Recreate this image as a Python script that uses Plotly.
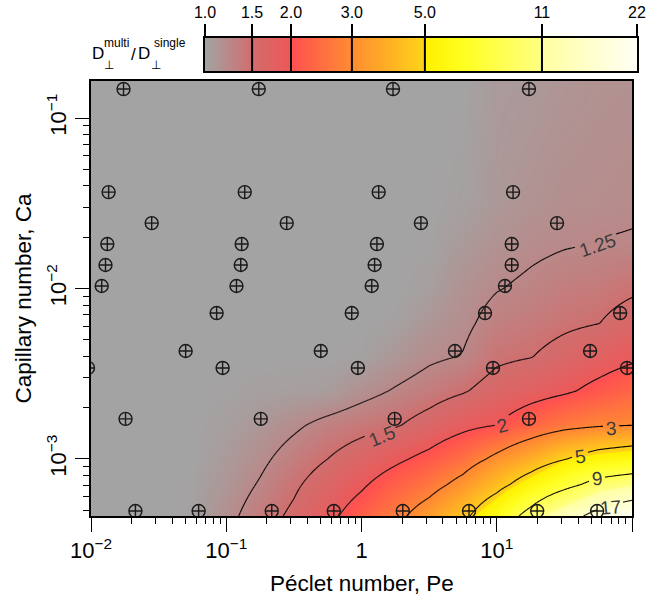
import numpy as np
import plotly.graph_objects as go

# ---------------- data ----------------
# grid nodes of the interpolated map (Peclet number, capillary number)
pe_nodes = [0.01, 0.0316, 0.0562, 0.1, 0.178, 0.316, 0.562, 1.0, 1.78, 3.16,
            5.62, 10.0, 17.8, 31.6, 56.2, 100.0]
ca_nodes = [4.63e-4, 7.08e-4, 1.0e-3, 1.58e-3, 2.51e-3, 3.98e-3, 6.31e-3,
            1.0e-2, 1.78e-2, 3.16e-2, 0.165]
# D_perp(multi)/D_perp(single), one row per ca node (bottom -> top)
ratio_grid = [
    [1.0, 1.0, 1.02, 1.18, 1.37, 1.56, 1.87, 2.26, 2.75, 3.49, 4.55, 6.69, 10.2, 14.5, 18.9, 23.0],
    [1.0, 1.0, 1.01, 1.12, 1.27, 1.45, 1.66, 1.93, 2.28, 2.65, 3.30, 4.39, 5.96, 7.93, 10.1, 11.0],
    [1.0, 1.0, 1.0, 1.08, 1.20, 1.35, 1.50, 1.67, 1.90, 2.15, 2.54, 3.21, 3.96, 4.93, 5.8, 6.27],
    [1.0, 1.0, 1.0, 1.04, 1.11, 1.21, 1.32, 1.40, 1.47, 1.63, 1.85, 2.0, 2.36, 2.68, 2.88, 2.98],
    [1.0, 1.0, 1.0, 1.01, 1.03, 1.04, 1.06, 1.17, 1.27, 1.36, 1.47, 1.64, 1.78, 1.92, 2.14, 2.36],
    [1.0, 1.0, 1.0, 1.0, 1.0, 1.0, 1.0, 1.02, 1.11, 1.21, 1.26, 1.44, 1.49, 1.62, 1.76, 1.91],
    [1.0, 1.0, 1.0, 1.0, 1.0, 1.0, 1.0, 1.0, 1.02, 1.12, 1.20, 1.33, 1.37, 1.44, 1.49, 1.64],
    [1.0, 1.0, 1.0, 1.0, 1.0, 1.0, 1.0, 1.0, 1.0, 1.04, 1.16, 1.24, 1.29, 1.35, 1.38, 1.45],
    [1.0, 1.0, 1.0, 1.0, 1.0, 1.0, 1.0, 1.0, 1.0, 1.01, 1.09, 1.16, 1.21, 1.24, 1.26, 1.27],
    [1.0, 1.0, 1.0, 1.0, 1.0, 1.0, 1.0, 1.0, 1.0, 1.0, 1.03, 1.10, 1.15, 1.19, 1.20, 1.22],
    [1.0, 1.0, 1.0, 1.0, 1.0, 1.0, 1.0, 1.0, 1.0, 1.0, 1.0, 1.08, 1.09, 1.13, 1.16, 1.17],
]

# simulation points
pe_pts = [0.0174, 0.174, 1.71, 17.3,
          0.0135, 0.137, 1.34, 13.2,
          0.0281, 0.280, 2.75, 27.9,
          0.0132, 0.130, 1.30, 12.9,
          0.0128, 0.128, 1.25, 12.9,
          0.0120, 0.119, 1.19, 11.5,
          0.0849, 0.847, 8.19, 81.7,
          0.0501, 0.50, 4.91, 49.0,
          0.0095, 0.094, 0.94, 9.38, 92.0,
          0.0180, 0.180, 1.76, 17.3,
          0.0213, 0.0625, 0.217, 0.624, 2.02, 6.24, 19.9, 55.2]
ca_pts = [0.148] * 4 + [0.0368] * 4 + [0.0242] * 4 + [0.01824] * 4 + [0.01374] * 4 + \
         [0.01035] * 4 + [0.00718] * 4 + [0.0043] * 4 + [0.00342] * 5 + [0.00172] * 4 + \
         [4.95e-4] * 8

contour_levels = [1.25, 1.5, 2, 3, 5, 9, 17]
contour_labels = ["1.25", "1.5", "2", "3", "5", "9", "17"]
# where the labels sit along each contour (Pe, Ca) and their tilt (deg)
label_pe = [55.2, 1.41, 11.1, 70.0, 41.3, 55.2, 68.9]
label_ca = [0.0180, 0.00135, 0.00158, 0.00152, 0.00104, 7.64e-4, 5.22e-4]
label_angle = [-19, -22, -15, -3, -8, -5, -5]

cb_values = [1.0, 1.5, 2.0, 3.0, 5.0, 11.0, 22.0]
cb_labels = ["1.0", "1.5", "2.0", "3.0", "5.0", "11", "22"]
cb_pos = [0.0, 0.109, 0.199, 0.340, 0.509, 0.780, 1.0]

x_ticks = [0.01, 0.1, 1, 10, 100]
x_ticktext = ["10<sup>\u22122</sup>", "10<sup>\u22121</sup>", "1", "10<sup>1</sup>", "10<sup>2</sup>"]
y_ticks = [1e-3, 1e-2, 1e-1]
y_ticktext = ["10<sup>\u22123</sup>", "10<sup>\u22122</sup>", "10<sup>\u22121</sup>"]

pe_range = [0.01, 100]
ca_range = [4.63e-4, 0.165]

# ---------------- figure ----------------
W, H = 648, 602
L, R, T, B = 91, 8, 38, 86
PW, PH = W - L - R, H - T - B
FONT = "Liberation Sans, Arial, Helvetica, sans-serif"
LABEL_SIZE = 19


def fx(px):
    return (px - L) / PW


def fy(py):
    return (H - B - py) / PH


XD1, YD1 = fx(632), fy(81)
xr = np.log10(pe_range)
yr = np.log10(ca_range)


def to_px(x, y):
    """data (log10) -> page pixels of the main axes"""
    px = L + (x - xr[0]) / (xr[1] - xr[0]) * XD1 * PW
    py = (H - B) - (y - yr[0]) / (yr[1] - yr[0]) * YD1 * PH
    return px, py


colorscale = [
    [0.0, "#a3a3a3"], [0.109, "#d16d6d"], [0.197, "#ef5757"], [0.200, "#ff5050"],
    [0.340, "#ff8c32"], [0.506, "#ffd418"], [0.512, "#fff000"], [0.60, "#ffff22"],
    [0.778, "#ffff84"], [0.783, "#ffffa2"], [1.0, "#fffff6"],
]

lx = np.log10(pe_nodes)
ly = np.log10(ca_nodes)
zr = np.array(ratio_grid, dtype=float)
tz = np.interp(zr, cb_values, cb_pos)

# bilinear resampling of the map (as the smoothed heatmap shows it) for contouring
gx = np.linspace(xr[0], xr[1], 541)
gy = np.linspace(yr[0], yr[1], 436)
zrow = np.array([np.interp(gx, lx, row) for row in zr])          # (ny, nxf)
zfine = np.array([np.interp(gy, ly, zrow[:, i]) for i in range(len(gx))]).T  # (nyf, nxf)


def iso_segments(level):
    Z = zfine - level
    Z = np.where(Z == 0, 1e-9, Z)
    # crossings on horizontal edges (between i and i+1 at row j)
    zh0, zh1 = Z[:, :-1], Z[:, 1:]
    ch = (zh0 * zh1) < 0
    with np.errstate(divide="ignore", invalid="ignore"):
        fh = zh0 / (zh0 - zh1)
    hx = gx[:-1][None, :] + fh * (gx[1] - gx[0])
    hy = np.broadcast_to(gy[:, None], hx.shape)
    # crossings on vertical edges (between j and j+1 at column i)
    zv0, zv1 = Z[:-1, :], Z[1:, :]
    cv = (zv0 * zv1) < 0
    with np.errstate(divide="ignore", invalid="ignore"):
        fv = zv0 / (zv0 - zv1)
    vy = gy[:-1][:, None] + fv * (gy[1] - gy[0])
    vx = np.broadcast_to(gx[None, :], vy.shape)
    # edges of each cell: bottom, right, top, left
    cx = np.stack([hx[:-1, :], vx[:, 1:], hx[1:, :], vx[:, :-1]], axis=-1)
    cy = np.stack([hy[:-1, :], vy[:, 1:], hy[1:, :], vy[:, :-1]], axis=-1)
    cc = np.stack([ch[:-1, :], cv[:, 1:], ch[1:, :], cv[:, :-1]], axis=-1)
    n = cc.sum(axis=-1)
    segs = []
    jj, ii = np.nonzero(n == 2)
    for j, i in zip(jj, ii):
        k = np.nonzero(cc[j, i])[0]
        segs.append(((cx[j, i, k[0]], cy[j, i, k[0]]), (cx[j, i, k[1]], cy[j, i, k[1]])))
    jj, ii = np.nonzero(n == 4)
    for j, i in zip(jj, ii):
        segs.append(((cx[j, i, 0], cy[j, i, 0]), (cx[j, i, 3], cy[j, i, 3])))
        segs.append(((cx[j, i, 1], cy[j, i, 1]), (cx[j, i, 2], cy[j, i, 2])))
    return segs


def text_width(txt, size):
    w = {".": 0.278}
    return sum(w.get(ch, 0.556) for ch in txt) * size


fig = go.Figure()
fig.add_trace(go.Heatmap(x=lx, y=ly, z=tz, zmin=0, zmax=1, colorscale=colorscale,
                         zsmooth="best", showscale=False, hoverinfo="skip"))

for lev, txt, pe, ca, ang in zip(contour_levels, contour_labels, label_pe, label_ca, label_angle):
    cxp, cyp = to_px(np.log10(pe), np.log10(ca))
    a = np.deg2rad(ang)
    ux, uy = np.cos(a), np.sin(a)
    half_w = text_width(txt, LABEL_SIZE) / 2 + 3
    half_h = 9
    xs, ys = [], []
    for p0, p1 in iso_segments(lev):
        mx, my = to_px((p0[0] + p1[0]) / 2, (p0[1] + p1[1]) / 2)
        dx, dy = mx - cxp, my - cyp
        along = dx * ux + dy * uy
        perp = -dx * uy + dy * ux
        if abs(along) < half_w and abs(perp) < half_h:
            continue
        xs += [p0[0], p1[0], None]
        ys += [p0[1], p1[1], None]
    fig.add_trace(go.Scatter(x=xs, y=ys, mode="lines", line=dict(color="black", width=1.1),
                             hoverinfo="skip", showlegend=False))
    fig.add_annotation(text=txt, x=np.log10(pe), y=np.log10(ca), xref="x", yref="y",
                       showarrow=False, textangle=ang,
                       font=dict(size=LABEL_SIZE, color="#3c3c3c", family=FONT))

fig.add_trace(go.Scatter(
    x=np.log10(pe_pts), y=np.log10(ca_pts), mode="markers",
    marker=dict(symbol="circle-cross-open", size=13, color="#1a1a1a", line=dict(width=1.4)),
    hoverinfo="skip", showlegend=False))

# colour key
cbx = np.linspace(0, 1, 201)
fig.add_trace(go.Heatmap(x=cbx, y=[0, 1], z=[cbx, cbx], zmin=0, zmax=1, colorscale=colorscale,
                         zsmooth="best", showscale=False, hoverinfo="skip",
                         xaxis="x2", yaxis="y2"))

minor_x = [np.log10(k * 10.0 ** d) for d in range(-2, 2) for k in range(2, 10)]
minor_y = [np.log10(k * 10.0 ** d) for d in range(-4, 0) for k in range(2, 10)
           if ca_range[0] <= k * 10.0 ** d <= ca_range[1]]

axis_common = dict(showline=True, linewidth=2, linecolor="black", mirror=True,
                   showgrid=False, zeroline=False, ticks="outside", ticklen=14,
                   tickwidth=1.2, tickcolor="black", automargin=False,
                   tickfont=dict(size=22, color="black", family=FONT))

fig.update_layout(
    template="none",
    width=W, height=H,
    margin=dict(l=L, r=R, t=T, b=B, autoexpand=False),
    paper_bgcolor="white", plot_bgcolor="white",
    showlegend=False,
    font=dict(family=FONT, color="black"),
    xaxis=dict(domain=[0, XD1], range=xr.tolist(), anchor="y",
               tickmode="array", tickvals=np.log10(x_ticks).tolist(), ticktext=x_ticktext,
               minor=dict(tickmode="array", tickvals=minor_x, ticks="outside", ticklen=6,
                          tickwidth=1, tickcolor="black", showgrid=False),
               **axis_common),
    yaxis=dict(domain=[0, YD1], range=yr.tolist(), anchor="x",
               tickmode="array", tickvals=np.log10(y_ticks).tolist(), ticktext=y_ticktext,
               tickangle=-90,
               minor=dict(tickmode="array", tickvals=minor_y, ticks="outside", ticklen=6,
                          tickwidth=1, tickcolor="black", showgrid=False),
               **axis_common),
    xaxis2=dict(domain=[fx(205), fx(637)], range=[0, 1], anchor="y2", side="top",
                tickmode="array", tickvals=cb_pos, ticktext=cb_labels,
                ticks="outside", ticklen=12, tickwidth=2, tickcolor="black",
                tickfont=dict(size=16, color="black", family=FONT), automargin=False,
                showline=True, linewidth=2, linecolor="black", mirror=True,
                showgrid=False, zeroline=False),
    yaxis2=dict(domain=[fy(71), fy(38)], range=[0, 1], anchor="x2", automargin=False,
                showticklabels=False, ticks="", showline=True, linewidth=2,
                linecolor="black", mirror=True, showgrid=False, zeroline=False),
)

for p in cb_pos[1:-1]:
    fig.add_shape(type="line", x0=p, x1=p, xref="x2", y0=0, y1=1, yref="y2 domain",
                  line=dict(color="black", width=2))

ann = [
    ("D", 98, 54, 17), ("multi", 116, 42.5, 12), ("\u22a5", 108.5, 65, 12),
    ("/", 133.5, 55, 17), ("D", 144, 54, 17), ("single", 169.5, 43, 12),
    ("\u22a5", 156, 65, 12),
]
for txt, ax_, ay_, sz in ann:
    fig.add_annotation(text=txt, x=fx(ax_), y=fy(ay_), xref="paper", yref="paper",
                       xanchor="center", yanchor="middle", showarrow=False,
                       font=dict(size=sz, color="black", family=FONT))

fig.add_annotation(text="P\u00e9clet number, Pe", x=fx(361.5), y=fy(583), xref="paper",
                   yref="paper", xanchor="center", yanchor="middle", showarrow=False,
                   font=dict(size=22.5, color="black", family=FONT))
fig.add_annotation(text="Capillary number, Ca", x=fx(23), y=fy(298.5), xref="paper",
                   yref="paper", xanchor="center", yanchor="middle", showarrow=False,
                   textangle=-90, font=dict(size=22.5, color="black", family=FONT))

fig.write_html("out.html", config={"responsive": False, "displayModeBar": False},
               post_script="document.body.style.margin='0px';"
                           "document.body.style.overflow='hidden';")
